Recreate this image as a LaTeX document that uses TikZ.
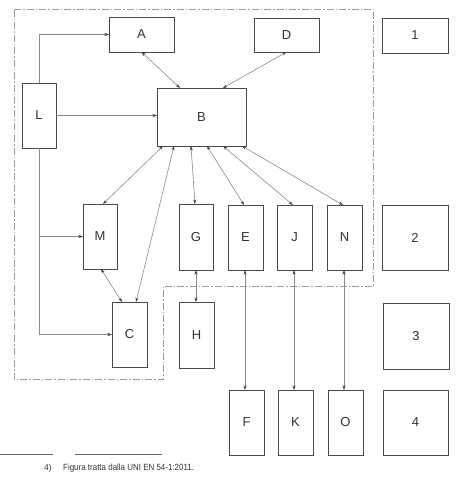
\documentclass[tikz,border=0pt]{standalone}
\usepackage{fontspec}
\setmainfont{Liberation Sans}
\usetikzlibrary{arrows.meta,calc}
\definecolor{boxc}{HTML}{4A4A4A}
\definecolor{linec}{HTML}{8A8A8A}
\definecolor{dashc}{HTML}{9A9A9A}
\tikzset{
  box/.style={draw=boxc, line width=0.9pt, inner sep=0pt, outer sep=0pt, font=\fontsize{13}{13}\selectfont, text=black!80},
  conn/.style={draw=linec, line width=0.6pt},
  arr/.style={conn, -{Stealth[length=4.5pt,width=3pt,color=black!75]}},
  dbl/.style={conn, {Stealth[length=4.5pt,width=3pt,color=black!75]}-{Stealth[length=4.5pt,width=3pt,color=black!75]}},
  boundary/.style={draw=dashc, line width=0.7pt, dash pattern=on 7pt off 2pt on 1.5pt off 2pt},
}
\newcommand{\bx}[6]{\node[box, minimum width={(#4)-(#2)}, minimum height={(#5)-(#3)}] (#1) at ({((#2)+(#4))/2},{((#3)+(#5))/2}) {#6};}
\begin{document}
\begin{tikzpicture}[x=1pt,y=-1pt]
\useasboundingbox[fill=white] (0,0) rectangle (469,500);
% boundary
\draw[boundary] (14,9) -- (373,9) -- (373,286) -- (163,286) -- (163,379) -- (14,379) -- cycle;
% boxes
\bx{A}{109}{17}{174}{52}{A}
\bx{D}{254}{18}{319}{52}{D}
\bx{one}{382}{18}{448}{53}{1}
\bx{L}{22}{83}{56}{148}{L}
\bx{B}{157}{88}{246}{146}{B}
\bx{M}{83}{204}{117}{269}{M}
\bx{G}{179}{204}{213}{270}{G}
\bx{E}{228}{205}{263}{270}{E}
\bx{J}{277}{205}{312}{270}{J}
\bx{N}{327}{205}{362}{270}{N}
\bx{two}{382}{205}{448}{270}{2}
\bx{C}{112}{302}{147}{367}{C}
\bx{H}{179}{302}{214}{368}{H}
\bx{three}{383}{303}{449}{369}{3}
\bx{F}{229}{390}{264}{455}{F}
\bx{K}{278}{390}{313}{455}{K}
\bx{O}{328}{390}{363}{455}{O}
\bx{four}{383}{390}{448}{455}{4}
% L connectors
\draw[arr] (L.north) |- (A.west);
\draw[arr] (L.east) -- (L.east -| B.west);
\draw[arr] (L.south) |- (C.west);
\draw[arr] (L.south |- M.west) -- (M.west);
% B connectors
\draw[dbl] (A.south) -- ([xshift=23pt]B.north west);
\draw[dbl] (D.south) -- ([xshift=66pt]B.north west);
\draw[dbl] ([xshift=6pt]B.south west) -- ([xshift=20pt]M.north west);
\draw[dbl] ([xshift=17pt]B.south west) -- ([xshift=24pt]C.north west);
\draw[dbl] ([xshift=34pt]B.south west) -- ([xshift=16pt]G.north west);
\draw[dbl] ([xshift=50pt]B.south west) -- ([xshift=16pt]E.north west);
\draw[dbl] ([xshift=66pt]B.south west) -- ([xshift=16pt]J.north west);
\draw[dbl] ([xshift=85pt]B.south west) -- ([xshift=16pt]N.north west);
\draw[dbl] ([xshift=18pt]M.south west) -- ([xshift=10pt]C.north west);
% vertical links
\draw[dbl] (G.south) -- (G.south |- H.north);
\draw[dbl] ([xshift=17pt]E.south west) -- ([xshift=17pt]E.south west |- F.north);
\draw[dbl] ([xshift=17pt]J.south west) -- ([xshift=17pt]J.south west |- K.north);
\draw[dbl] ([xshift=17pt]N.south west) -- ([xshift=17pt]N.south west |- O.north);
% footnote
\draw[draw=black!60, line width=0.5pt] (0,454) -- (53,454);
\draw[draw=black!60, line width=0.5pt] (75,454) -- (162,454);
\node[anchor=west, inner sep=0pt, font=\fontsize{8.5}{8.5}\selectfont, text=black!80] (fnnum) at (44,468) {4)};
\node[anchor=west, inner sep=0pt, font=\fontsize{9}{9}\selectfont, text=black!80, xscale=0.885] (fntext) at (63,468) {Figura tratta dalla UNI EN 54-1:2011.};
\end{tikzpicture}
\end{document}
